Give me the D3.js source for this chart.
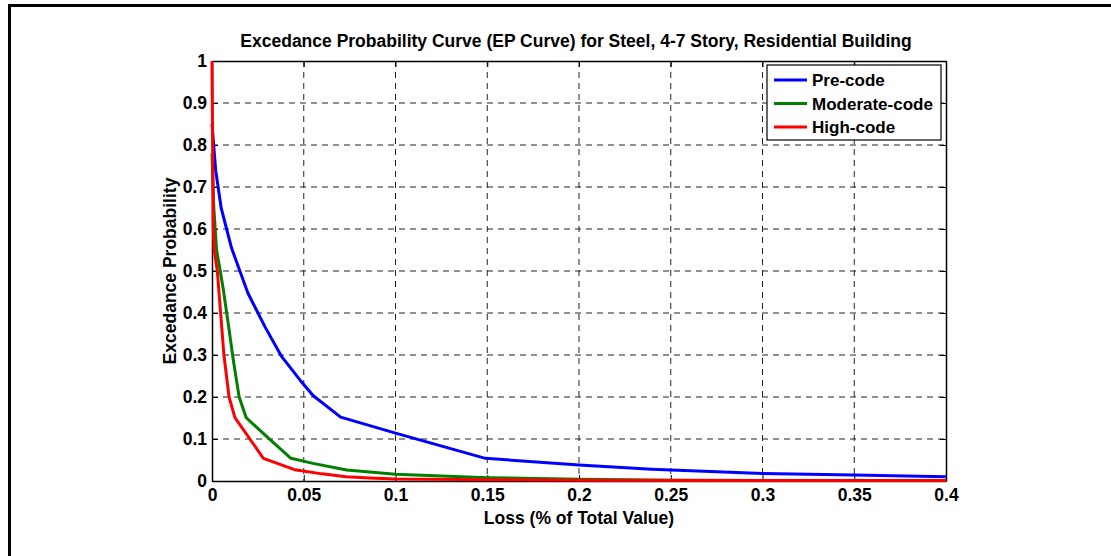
<!DOCTYPE html>
<html>
<head>
<meta charset="utf-8">
<script src="https://cdn.jsdelivr.net/npm/d3@7"></script>
<style>
	body { margin: 0; background: #fff; }
	svg text { font-family: "Liberation Sans", Arial, Helvetica, sans-serif; font-weight: bold; }
</style>
</head>
<body>
<div id="chart"></div>
<script>
// loss values (x) and exceedance probabilities (y)
const preCodeLoss = [0, 0.002, 0.005, 0.0107, 0.0196, 0.0289, 0.038, 0.048, 0.0552, 0.0701, 0.1, 0.149, 0.2, 0.2396, 0.3, 0.35, 0.4];
const preCodeProb = [0.85, 0.74, 0.65, 0.554, 0.447, 0.367, 0.296, 0.24, 0.203, 0.152, 0.114, 0.054, 0.038, 0.028, 0.018, 0.014, 0.01];

const modCodeLoss = [0, 0.001, 0.0025, 0.0045, 0.0062, 0.009, 0.0116, 0.0148, 0.0186, 0.03, 0.043, 0.055, 0.0734, 0.1, 0.15, 0.2, 0.25, 0.3, 0.4];
const modCodeProb = [0.78, 0.65, 0.55, 0.5, 0.455, 0.37, 0.288, 0.2, 0.151, 0.105, 0.054, 0.042, 0.026, 0.016, 0.008, 0.004, 0.002, 0.001, 0.001];

const highCodeLoss = [0, 0.0007, 0.0012, 0.0029, 0.0047, 0.0065, 0.0093, 0.0125, 0.028, 0.045, 0.06, 0.073, 0.086, 0.1, 0.15, 0.2, 0.3, 0.4];
const highCodeProb = [1, 0.6, 0.55, 0.5, 0.4, 0.3, 0.2, 0.151, 0.054, 0.027, 0.017, 0.01, 0.007, 0.005, 0.003, 0.002, 0.001, 0.001];

const seriesNames = ["Pre-code", "Moderate-code", "High-code"];
const seriesColors = ["#0000ff", "#008000", "#ff0000"];

const xTicks = [0, 0.05, 0.1, 0.15, 0.2, 0.25, 0.3, 0.35, 0.4];
const yTicks = [0, 0.1, 0.2, 0.3, 0.4, 0.5, 0.6, 0.7, 0.8, 0.9, 1];

const titleText = "Excedance Probability Curve (EP Curve) for Steel, 4-7 Story, Residential Building";
const xLabel = "Loss (% of Total Value)";
const yLabel = "Excedance Probability";

let width = 1111,
	height = 556,
	margin = {top: 61, right: 165, bottom: 75, left: 212},
	plotW = width - margin.left - margin.right,
	plotH = height - margin.top - margin.bottom,
	fontSize = "17.5px";

let svg = d3.select("#chart")
	.append("svg")
	.attr("width", width)
	.attr("height", height);

// figure frame (runs off the right and bottom of the window)
svg.append("rect")
	.attr("x", 9.5)
	.attr("y", 5.5)
	.attr("width", width + 20)
	.attr("height", height + 20)
	.attr("fill", "none")
	.attr("stroke", "#000")
	.attr("stroke-width", 3);

let g = svg.append("g")
	.attr("transform", "translate(" + margin.left + "," + margin.top + ")");

let xScale = d3.scaleLinear().domain([0, 0.4]).range([0, plotW]);
let yScale = d3.scaleLinear().domain([0, 1]).range([plotH, 0]);

// dashed grid
g.append("g")
	.selectAll("line")
	.data(xTicks.slice(1, -1))
	.join("line")
	.attr("x1", d => xScale(d)).attr("x2", d => xScale(d))
	.attr("y1", 0).attr("y2", plotH)
	.attr("stroke", "#222")
	.attr("stroke-dasharray", "6,5");

g.append("g")
	.selectAll("line")
	.data(yTicks.slice(1, -1))
	.join("line")
	.attr("x1", 0).attr("x2", plotW)
	.attr("y1", d => yScale(d)).attr("y2", d => yScale(d))
	.attr("stroke", "#222")
	.attr("stroke-dasharray", "6,5");

// axes, ticks point inwards like matlab
let fmt = d => d3.format("")(+d.toFixed(2));

g.append("g")
	.attr("class", "axis")
	.attr("transform", "translate(0," + plotH + ")")
	.call(d3.axisBottom(xScale).tickValues(xTicks).tickFormat(fmt).tickSizeInner(-6).tickSizeOuter(0).tickPadding(8));

g.append("g")
	.attr("class", "axis")
	.call(d3.axisLeft(yScale).tickValues(yTicks).tickFormat(fmt).tickSizeInner(-6).tickSizeOuter(0).tickPadding(5));

g.append("g")
	.call(d3.axisTop(xScale).tickValues(xTicks).tickFormat("").tickSizeInner(-6).tickSizeOuter(0));

g.append("g")
	.attr("transform", "translate(" + plotW + ",0)")
	.call(d3.axisRight(yScale).tickValues(yTicks).tickFormat("").tickSizeInner(-6).tickSizeOuter(0));

g.selectAll(".domain").attr("stroke", "#000").attr("stroke-width", 1.5);
g.selectAll(".tick line").attr("stroke", "#000");
g.selectAll(".axis text")
	.attr("fill", "#000")
	.style("font-size", fontSize);

// curves
let line = d3.line()
	.x(d => xScale(d[0]))
	.y(d => yScale(d[1]));

let allSeries = [
	d3.zip(preCodeLoss, preCodeProb),
	d3.zip(modCodeLoss, modCodeProb),
	d3.zip(highCodeLoss, highCodeProb)
];

g.selectAll(".curve")
	.data(allSeries)
	.join("path")
	.attr("class", "curve")
	.attr("d", line)
	.attr("fill", "none")
	.attr("stroke", (d, i) => seriesColors[i])
	.attr("stroke-width", 3)
	.attr("stroke-linejoin", "round");

// title and axis labels
svg.append("text")
	.attr("x", margin.left + plotW / 2 - 3)
	.attr("y", 47)
	.attr("text-anchor", "middle")
	.style("font-size", fontSize)
	.text(titleText);

svg.append("text")
	.attr("x", margin.left + plotW / 2)
	.attr("y", 524)
	.attr("text-anchor", "middle")
	.style("font-size", fontSize)
	.text(xLabel);

svg.append("text")
	.attr("transform", "translate(176," + (margin.top + plotH / 2) + ") rotate(-90)")
	.attr("text-anchor", "middle")
	.style("font-size", fontSize)
	.text(yLabel);

// legend
let legend = svg.append("g").attr("transform", "translate(767,65)");

legend.append("rect")
	.attr("width", 174)
	.attr("height", 75)
	.attr("fill", "#fff")
	.attr("stroke", "#000")
	.attr("stroke-width", 1.2);

let rows = legend.selectAll(".row")
	.data(seriesNames)
	.join("g")
	.attr("class", "row")
	.attr("transform", (d, i) => "translate(0," + (15 + i * 23.5) + ")");

rows.append("line")
	.attr("x1", 7).attr("x2", 40)
	.attr("stroke", (d, i) => seriesColors[i])
	.attr("stroke-width", 3);

rows.append("text")
	.attr("x", 45)
	.attr("y", 6)
	.style("font-size", "17px")
	.text(d => d);
</script>
</body>
</html>
